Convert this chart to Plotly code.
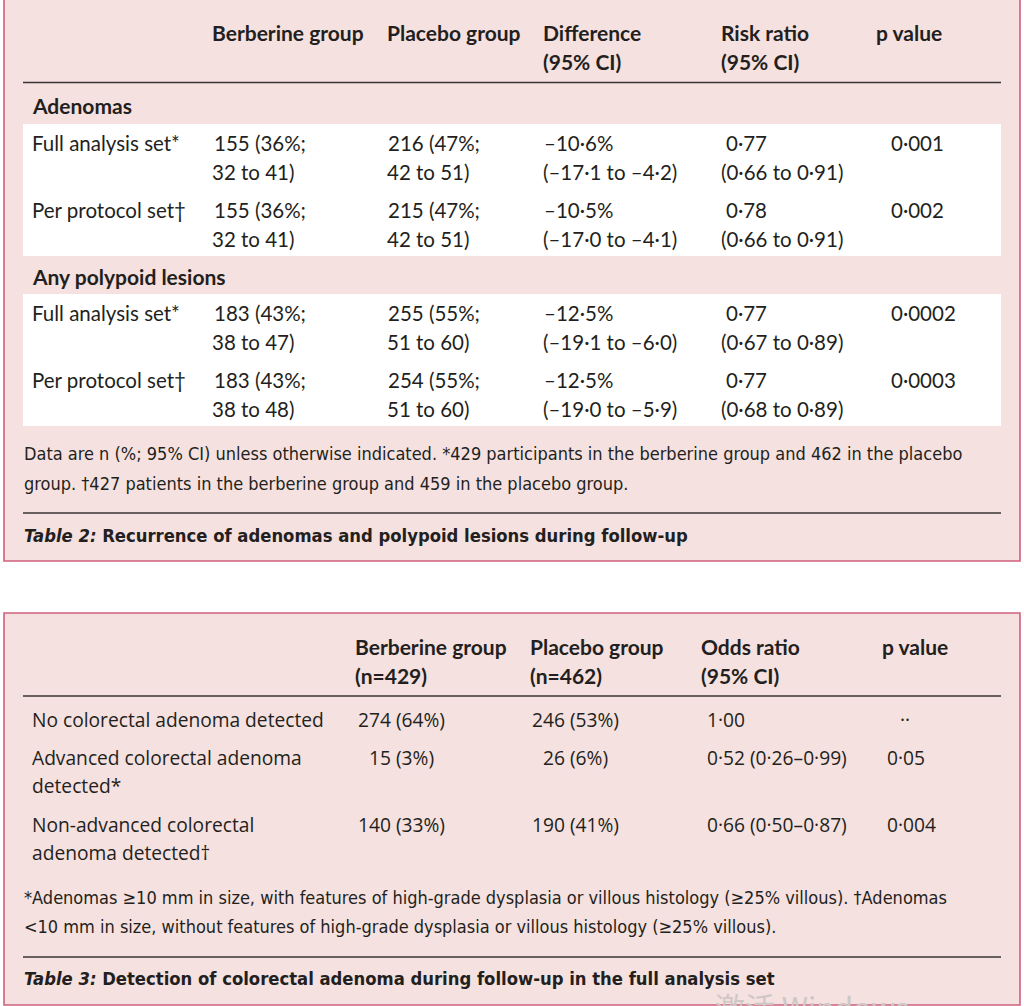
import plotly.graph_objects as go

# ---------------- data ----------------
t2_headers = [["Berberine group"], ["Placebo group"], ["Difference", "(95% CI)"],
              ["Risk ratio", "(95% CI)"], ["p value"]]
t2_sections = ["Adenomas", "Any polypoid lesions"]
t2_row_labels = ["Full analysis set*", "Per protocol set†", "Full analysis set*", "Per protocol set†"]
t2_berb_n = [155, 155, 183, 183]
t2_berb_pct = [36, 36, 43, 43]
t2_berb_ci = ["32 to 41", "32 to 41", "38 to 47", "38 to 48"]
t2_plac_n = [216, 215, 255, 254]
t2_plac_pct = [47, 47, 55, 55]
t2_plac_ci = ["42 to 51", "42 to 51", "51 to 60", "51 to 60"]
t2_diff = ["–10·6%", "–10·5%", "–12·5%", "–12·5%"]
t2_diff_ci = ["(–17·1 to –4·2)", "(–17·0 to –4·1)", "(–19·1 to –6·0)", "(–19·0 to –5·9)"]
t2_rr = ["0·77", "0·78", "0·77", "0·77"]
t2_rr_ci = ["(0·66 to 0·91)", "(0·66 to 0·91)", "(0·67 to 0·89)", "(0·68 to 0·89)"]
t2_p = ["0·001", "0·002", "0·0002", "0·0003"]
t2_footnote = ["Data are n (%; 95% CI) unless otherwise indicated. *429 participants in the berberine group and 462 in the placebo",
               "group. †427 patients in the berberine group and 459 in the placebo group."]
t2_caption = ("Table 2:", "Recurrence of adenomas and polypoid lesions during follow-up")

t3_headers = [["Berberine group", "(n=429)"], ["Placebo group", "(n=462)"],
              ["Odds ratio", "(95% CI)"], ["p value"]]
t3_labels = [["No colorectal adenoma detected"], ["Advanced colorectal adenoma", "detected*"],
             ["Non-advanced colorectal", "adenoma detected†"]]
t3_berb_n = [274, 15, 140]
t3_berb_pct = [64, 3, 33]
t3_plac_n = [246, 26, 190]
t3_plac_pct = [53, 6, 41]
t3_or = ["1·00", "0·52 (0·26–0·99)", "0·66 (0·50–0·87)"]
t3_p = ["··", "0·05", "0·004"]
t3_footnote = ["*Adenomas ≥10 mm in size, with features of high-grade dysplasia or villous histology (≥25% villous). †Adenomas",
               "<10 mm in size, without features of high-grade dysplasia or villous histology (≥25% villous)."]
t3_caption = ("Table 3:", "Detection of colorectal adenoma during follow-up in the full analysis set")

# ---------------- style ----------------
PINK = "#f5e1df"
BORDER = "#d0607e"
RULE = "#3a3536"
INK = "#231f20"
BODY2 = "Lato"
BODY3 = "Open Sans"
COND = "DejaVu Sans Condensed, Liberation Sans Narrow, Roboto Condensed, sans-serif"
FS2 = 20.5
FSB = 21
FS3 = 19.2
FSN = 18
FSC = 18.3

fig = go.Figure()
shapes = []
ann = []


def rect(x0, y0, x1, y1, fill, line=None, lw=0):
    shapes.append(dict(type="rect", xref="x", yref="y", x0=x0, y0=y0, x1=x1, y1=y1,
                       fillcolor=fill, line=dict(color=line or fill, width=lw), layer="below"))


def rule(y, x0=23, x1=1001):
    shapes.append(dict(type="line", xref="x", yref="y", x0=x0, x1=x1, y0=y, y1=y,
                       line=dict(color=RULE, width=1.3), layer="below"))


def txt(x, y, s, family=BODY2, size=FS2, color=INK, xanchor="left"):
    ann.append(dict(x=x - 2 if xanchor == "left" else x, y=y, xref="x", yref="y", text=s,
                    showarrow=False, xanchor=xanchor, yanchor="middle", align="left",
                    font=dict(family=family, size=size, color=color)))


FIG = "\u2007"

# ---------------- Table 2 ----------------
rect(4, -5, 1020, 561, PINK, BORDER, 1.6)
rect(23, 124, 1001, 256, "white")
rect(23, 294, 1001, 426, "white")
rule(82.5)
rule(513)

t2_cols = [212, 387, 543, 721, 876]
for cx, lines in zip(t2_cols, t2_headers):
    for k, line in enumerate(lines):
        txt(cx, 32 + 29 * k, "<b>" + line + "</b>", size=FSB)

section_y = [105, 276]
row_y = [143, 210, 313, 380]
for si, sname in enumerate(t2_sections):
    txt(32, section_y[si], "<b>" + sname + "</b>", size=FSB)
for i in range(4):
    y1, y2 = row_y[i], row_y[i] + 29
    txt(32, y1, t2_row_labels[i])
    txt(214, y1, f"{t2_berb_n[i]} ({t2_berb_pct[i]}%;")
    txt(212, y2, t2_berb_ci[i] + ")")
    txt(388, y1, f"{t2_plac_n[i]} ({t2_plac_pct[i]}%;")
    txt(387, y2, t2_plac_ci[i] + ")")
    txt(544, y1, t2_diff[i])
    txt(543, y2, t2_diff_ci[i])
    txt(726, y1, t2_rr[i])
    txt(721, y2, t2_rr_ci[i])
    txt(891, y1, t2_p[i])

for k, line in enumerate(t2_footnote):
    txt(24, 453 + 30 * k, line, family=COND, size=FSN)
txt(24, 535, "<b><i>" + t2_caption[0] + "</i> " + t2_caption[1] + "</b>", family=COND, size=FSC)

# ---------------- Table 3 ----------------
rect(4, 613, 1020, 1005, PINK, BORDER, 1.6)
rule(696)
rule(957)

t3_cols = [355, 530, 701, 882]
for cx, lines in zip(t3_cols, t3_headers):
    for k, line in enumerate(lines):
        txt(cx, 646 + 29 * k, "<b>" + line + "</b>", size=FSB)

t3_y = [719, 757, 824]
for i in range(3):
    y1 = t3_y[i]
    for k, line in enumerate(t3_labels[i]):
        txt(32, y1 + 28 * k, line, family=BODY3, size=FS3)
    txt(358, y1, f"{t3_berb_n[i]:{FIG}>3} ({t3_berb_pct[i]}%)", family=BODY3, size=FS3)
    txt(532, y1, f"{t3_plac_n[i]:{FIG}>3} ({t3_plac_pct[i]}%)", family=BODY3, size=FS3)
    txt(707, y1, t3_or[i], family=BODY3, size=FS3)
    if t3_p[i] == "··":
        txt(905, y1, t3_p[i], family=BODY3, size=FS3, xanchor="center")
    else:
        txt(887, y1, t3_p[i], family=BODY3, size=FS3)

for k, line in enumerate(t3_footnote):
    txt(24, 897 + 29 * k, line, family=COND, size=FSN)
txt(24, 978, "<b><i>" + t3_caption[0] + "</i> " + t3_caption[1] + "</b>", family=COND, size=FSC)

# faint OS watermark, cut off by the bottom edge as in the screenshot
ann.append(dict(x=812, y=0.0, xref="x", yref="paper", text="激活 Windows", showarrow=False,
                xanchor="center", yanchor="middle",
                font=dict(family="Noto Sans CJK SC", size=30, color="#cfc6c6")))

fig.update_layout(
    width=1024, height=1006,
    margin=dict(l=0, r=0, t=0, b=0),
    paper_bgcolor="white", plot_bgcolor="white",
    xaxis=dict(range=[0, 1024], visible=False, fixedrange=True),
    yaxis=dict(range=[1006, 0], visible=False, fixedrange=True),
    shapes=shapes, annotations=ann, showlegend=False,
)
fig.write_html("out.html", config={"displayModeBar": False},
               post_script="document.body.style.margin='0';document.body.style.overflow='hidden';")
